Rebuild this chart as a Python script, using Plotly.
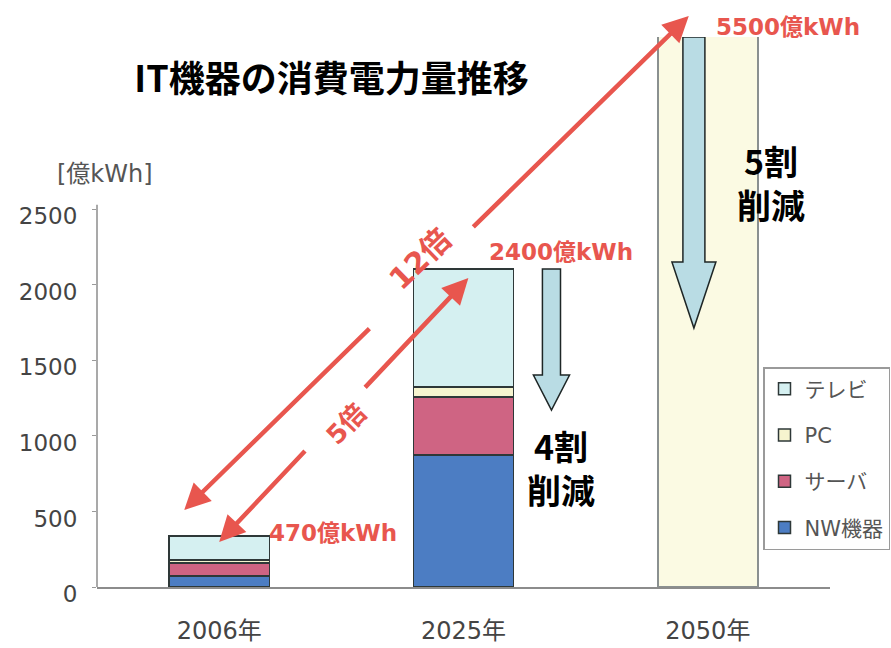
import plotly.graph_objects as go

# ---- data -----------------------------------------------------------------
categories = ["2006年", "2025年", "2050年"]
nw_kit = [73, 874, None]        # NW機器
server = [86, 384, None]        # サーバ
pc = [20, 66, None]             # PC
tv = [159, 781, None]           # テレビ
total_2050 = [None, None, 5500]  # 2050年 total (drawn as one bar)

totals_text = ["470億kWh", "2400億kWh", "5500億kWh"]
y_ticks = [0, 500, 1000, 1500, 2000, 2500]

# ---- styles ---------------------------------------------------------------
RED = "#E8564E"
ARROW_BLUE = "#B9DCE4"
OUTLINE = "#2E3838"
JP = "Noto Sans CJK JP"
LATIN = "DejaVu Sans, Noto Sans CJK JP"

colors = {
    "NW機器": "#4C7DC3",
    "サーバ": "#CF6483",
    "PC": "#F6F4CF",
    "テレビ": "#D5F0F1",
}
legend_rank = {"テレビ": 1, "PC": 2, "サーバ": 3, "NW機器": 4}

fig = go.Figure()
for name, vals in [("NW機器", nw_kit), ("サーバ", server), ("PC", pc), ("テレビ", tv)]:
    fig.add_trace(go.Bar(
        x=categories, y=vals, name=name, legendgroup=name,
        legendrank=legend_rank[name],
        marker=dict(color=colors[name], line=dict(color=OUTLINE, width=1.5)),
    ))
fig.add_trace(go.Bar(
    x=categories, y=total_2050, name="合計", showlegend=False,
    marker=dict(color="#FBFAE3", line=dict(color="#8A9090", width=1.5)),
))

Y_MAX = 3640

# ---- red double-headed arrows (growth), split where the label sits --------
arrow_common = dict(
    xref="x", yref="y", axref="x", ayref="y", text="", showarrow=True,
    arrowhead=2, arrowsize=1.15, arrowwidth=4.5, arrowcolor=RED,
)


def split_arrow(p0, p1, gap_start, gap_end):
    """Two arrows pointing outward from a gap in the segment p0-p1."""
    def at(t):
        return (p0[0] + t * (p1[0] - p0[0]), p0[1] + t * (p1[1] - p0[1]))
    a, b = at(gap_start), at(gap_end)
    return [
        dict(x=p0[0], y=p0[1], ax=a[0], ay=a[1], **arrow_common),
        dict(x=p1[0], y=p1[1], ax=b[0], ay=b[1], **arrow_common),
    ]


annotations = []
annotations += split_arrow((-0.143, 510), (1.922, 3779), 0.37, 0.57)
annotations += split_arrow((0.0, 298), (1.02, 2045), 0.35, 0.58)
annotations += [
    dict(x=0.82, y=2170, xref="x", yref="y", text="12倍", showarrow=False,
         textangle=-44,
         font=dict(family=LATIN, size=30, color=RED, weight="bold")),
    dict(x=0.52, y=1080, xref="x", yref="y", text="5倍", showarrow=False,
         textangle=-46,
         font=dict(family=LATIN, size=26, color=RED, weight="bold")),
]

# total labels
red_font = dict(family=LATIN, size=23, color=RED, weight="bold")
annotations += [
    dict(x=0.466, y=357, xref="x", yref="y", text=totals_text[0],
         showarrow=False, font=red_font),
    dict(x=1.40, y=2217, xref="x", yref="y", text=totals_text[1],
         showarrow=False, font=red_font),
    dict(x=2.33, y=1.018, xref="x", yref="paper", text=totals_text[2],
         xanchor="center", yanchor="middle", showarrow=False, font=red_font),
]

# reduction labels
cut_font = dict(family=JP, size=34, color="black", weight="bold")
annotations += [
    dict(x=1.40, y=788, xref="x", yref="y", text="4割<br>削減",
         showarrow=False, font=cut_font),
    dict(x=2.26, y=2674, xref="x", yref="y", text="5割<br>削減",
         showarrow=False, font=cut_font),
]

# unit label
annotations.append(dict(
    x=0.011, y=0.751, xref="paper", yref="paper", text="[億kWh]",
    xanchor="center", yanchor="middle",
    showarrow=False, font=dict(family=LATIN, size=24, color="#555555"),
))


def down_arrow(xc, y_top, y_neck, y_tip, shaft_hw, head_hw):
    path = (f"M{xc - shaft_hw},{y_top} L{xc + shaft_hw},{y_top} "
            f"L{xc + shaft_hw},{y_neck} L{xc + head_hw},{y_neck} "
            f"L{xc},{y_tip} L{xc - head_hw},{y_neck} "
            f"L{xc - shaft_hw},{y_neck} Z")
    return dict(type="path", xref="x", yref="y", path=path,
                fillcolor=ARROW_BLUE, line=dict(color="#1E2626", width=1.5),
                layer="above")


top_2025 = nw_kit[1] + server[1] + pc[1] + tv[1]
shapes = [
    down_arrow(1.36, top_2025, 1403, 1171, 0.037, 0.074),
    down_arrow(1.943, Y_MAX, 2151, 1714, 0.045, 0.09),
    # y axis line, drawn only over the ticked span
    dict(type="line", xref="paper", yref="y", x0=0, x1=0, y0=0, y1=2530,
         line=dict(color="#8C8C8C", width=1.5), layer="above"),
]

fig.update_layout(
    width=891, height=648, autosize=False,
    margin=dict(l=97, r=61, t=37, b=61, autoexpand=False),
    paper_bgcolor="white", plot_bgcolor="white",
    barmode="stack", bargap=0.59,
    title=dict(text="IT機器の消費電力量推移", x=0.372, y=0.877,
               xref="container", yref="container",
               xanchor="center", yanchor="middle", automargin=False,
               font=dict(family=JP, size=36, color="black", weight="bold")),
    xaxis=dict(range=[-0.5, 2.5], autorange=False, automargin=False,
               showline=True, linecolor="#8C8C8C", linewidth=1.5,
               ticks="", showgrid=False, zeroline=False,
               ticklabelstandoff=21,
               tickfont=dict(family=LATIN, size=24, color="#444444")),
    yaxis=dict(range=[0, Y_MAX], autorange=False, automargin=False,
               tickvals=y_ticks, showline=False,
               showgrid=False, zeroline=False, ticks="outside", ticklen=4,
               tickcolor="#9A9A9A", ticklabelstandoff=10, ticklabelshift=7,
               tickfont=dict(family=LATIN, size=23, color="#444444")),
    legend=dict(x=0.9086, y=0.40, xanchor="left", yanchor="top",
                traceorder="grouped", tracegroupgap=16,
                bgcolor="white", bordercolor="#9A9A9A", borderwidth=1.5,
                font=dict(family=LATIN, size=21, color="#555555")),
    annotations=annotations,
    shapes=shapes,
)

fig.write_html("out.html")
